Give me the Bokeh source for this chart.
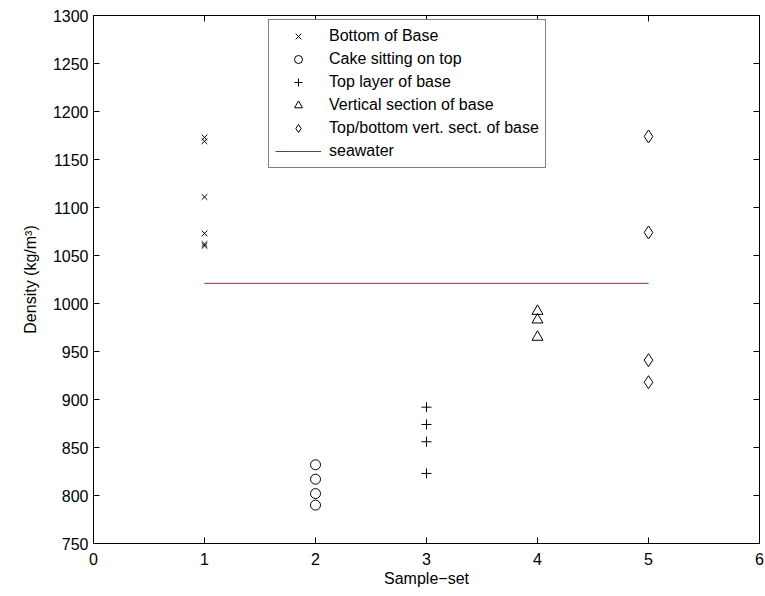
from bokeh.plotting import figure
from bokeh.models import (Range1d, LinearAxis, FixedTicker, Legend, LegendItem,
                          CustomJSTickFormatter)
from bokeh.embed import file_html
from bokeh.resources import INLINE

# ---- data ----
bottom_x = [1, 1, 1, 1, 1, 1]
bottom_y = [1173, 1169, 1111, 1073, 1062, 1060]
cake_x = [2, 2, 2, 2]
cake_y = [832, 817, 802, 790]
toplayer_x = [3, 3, 3, 3]
toplayer_y = [892, 874, 856, 823]
vert_x = [4, 4, 4]
vert_y = [992, 983, 965]
tb_x = [5, 5, 5, 5]
tb_y = [1174, 1074, 941, 918]
sea_x = [1, 5]
sea_y = [1021, 1021]

x_ticks = [0, 1, 2, 3, 4, 5, 6]
y_ticks = [750, 800, 850, 900, 950, 1000, 1050, 1100, 1150, 1200, 1250, 1300]

FONT = "Liberation Sans"
FS = "16px"

p = figure(width=765, height=596, x_range=Range1d(0, 6), y_range=Range1d(750, 1300),
           output_backend="svg", toolbar_location=None,
           min_border_left=93, min_border_top=15, min_border_right=6, min_border_bottom=53,
           x_axis_label="Sample\u2212set", y_axis_label="Density (kg/m\u00b3)")
p.grid.visible = False
p.outline_line_color = "black"
p.background_fill_color = "white"
p.border_fill_color = "white"

for ax in p.xaxis + p.yaxis:
    ax.axis_line_color = "black"
    ax.major_tick_line_color = "black"
    ax.major_tick_in = 6
    ax.major_tick_out = 0
    ax.minor_tick_line_color = None
    ax.major_label_text_font = FONT
    ax.major_label_text_font_size = FS
    ax.major_label_text_color = "black"
    ax.axis_label_text_font = FONT
    ax.axis_label_text_font_size = FS
    ax.axis_label_text_font_style = "normal"
    ax.axis_label_text_color = "black"
p.xaxis.ticker = FixedTicker(ticks=x_ticks)
p.yaxis.ticker = FixedTicker(ticks=y_ticks)
p.xaxis.major_label_standoff = 9
p.xaxis.axis_label_standoff = 2
p.yaxis.major_label_standoff = 5
p.yaxis.axis_label_standoff = 11

blank = CustomJSTickFormatter(code="return ''")
for loc, ticks in (("above", x_ticks), ("right", y_ticks)):
    a = LinearAxis(ticker=FixedTicker(ticks=ticks), formatter=blank,
                   axis_line_color="black", major_tick_line_color="black",
                   major_tick_in=6, major_tick_out=0, minor_tick_line_color=None,
                   major_label_standoff=0)
    p.add_layout(a, loc)

r1 = p.scatter(bottom_x, bottom_y, marker="x", size=8, line_color="black", line_width=1)
r2 = p.scatter(cake_x, cake_y, marker="circle", size=10, line_color="black",
               fill_color=None, line_width=1)
r3 = p.scatter(toplayer_x, toplayer_y, marker="cross", size=10, line_color="black", line_width=1)
r4 = p.scatter(vert_x, vert_y, marker="triangle", size=11, line_color="black",
               fill_color=None, line_width=1)
r5 = p.scatter(tb_x, tb_y, marker="diamond", size=13, line_color="black",
               fill_color=None, line_width=1)
r6 = p.line(sea_x, sea_y, line_color="#ff0000", line_width=1)

legend = Legend(items=[
    LegendItem(label="Bottom of Base", renderers=[r1]),
    LegendItem(label="Cake sitting on top", renderers=[r2]),
    LegendItem(label="Top layer of base", renderers=[r3]),
    LegendItem(label="Vertical section of base", renderers=[r4]),
    LegendItem(label="Top/bottom vert. sect. of base", renderers=[r5]),
    LegendItem(label="seawater", renderers=[r6]),
], location=(175, 375))
legend.label_text_font = FONT
legend.label_text_font_size = FS
legend.label_text_color = "black"
legend.border_line_color = "black"
legend.border_line_width = 1
legend.background_fill_alpha = 1
legend.glyph_width = 46
legend.glyph_height = 20
legend.label_height = 20
legend.label_standoff = 8
legend.spacing = 3
legend.padding = 6
legend.margin = 0
p.add_layout(legend, "center")

open("out.html", "w").write(file_html(p, INLINE))
